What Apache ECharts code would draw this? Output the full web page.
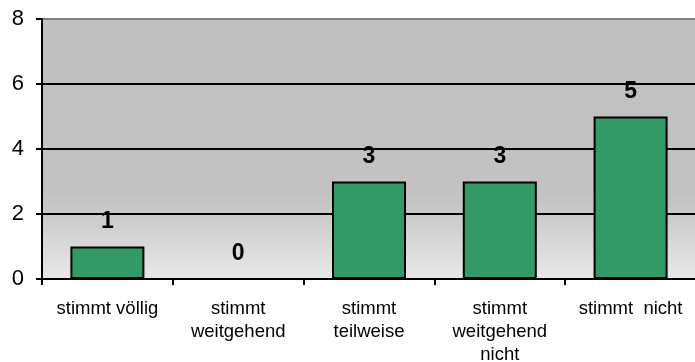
<!DOCTYPE html>
<html>
<head>
<meta charset="utf-8">
<script src="https://cdn.jsdelivr.net/npm/echarts@6/dist/echarts.min.js"></script>
<style>
  html, body { margin: 0; padding: 0; background: #ffffff; }
  #chart { width: 695px; height: 362px; }
</style>
</head>
<body>
<div id="chart"></div>
<script>
// Answer categories and counts
const categories = ['stimmt völlig', 'stimmt\nweitgehend', 'stimmt\nteilweise', 'stimmt\nweitgehend\nnicht', 'stimmt  nicht'];
const counts = [1, 0, 3, 3, 5];
const yTicks = [0, 2, 4, 6, 8];

const chart = echarts.init(document.getElementById('chart'));
chart.setOption({
  animation: false,
  textStyle: { fontFamily: 'Liberation Sans, Arial, sans-serif' },
  grid: {
    left: 42, top: 19, width: 654, height: 260,
    outerBoundsMode: 'none',
    containLabel: false,
    show: true,
    borderWidth: 0,
    backgroundColor: {
      type: 'linear', x: 0, y: 0, x2: 0, y2: 1,
      colorStops: [
        { offset: 0, color: '#c0c0c0' },
        { offset: 0.68, color: '#c2c2c2' },
        { offset: 1, color: '#e8e8e8' }
      ]
    }
  },
  xAxis: {
    type: 'category',
    data: categories,
    axisLine: { lineStyle: { color: '#000', width: 2 } },
    axisTick: { show: true, length: 6, lineStyle: { color: '#000', width: 2 } },
    axisLabel: {
      color: '#000', fontSize: 18.5, lineHeight: 23, margin: 18,
      interval: 0
    }
  },
  yAxis: {
    type: 'value',
    min: yTicks[0], max: yTicks[yTicks.length - 1], interval: 2,
    axisLine: { show: true, lineStyle: { color: '#000', width: 2 } },
    axisTick: { show: true, length: 6, lineStyle: { color: '#000', width: 2 } },
    axisLabel: { color: '#000', fontSize: 22, margin: 18 },
    splitLine: {
      show: true,
      lineStyle: { color: ['#000', '#000', '#000', '#000', '#808080'], width: 2 }
    }
  },
  series: [{
    type: 'bar',
    data: counts,
    barWidth: 74,
    itemStyle: { color: '#339966', borderColor: '#000', borderWidth: 2 },
    label: {
      show: true, position: 'top', distance: 13,
      color: '#000', fontSize: 23, fontWeight: 'bold'
    }
  }]
});
</script>
</body>
</html>
